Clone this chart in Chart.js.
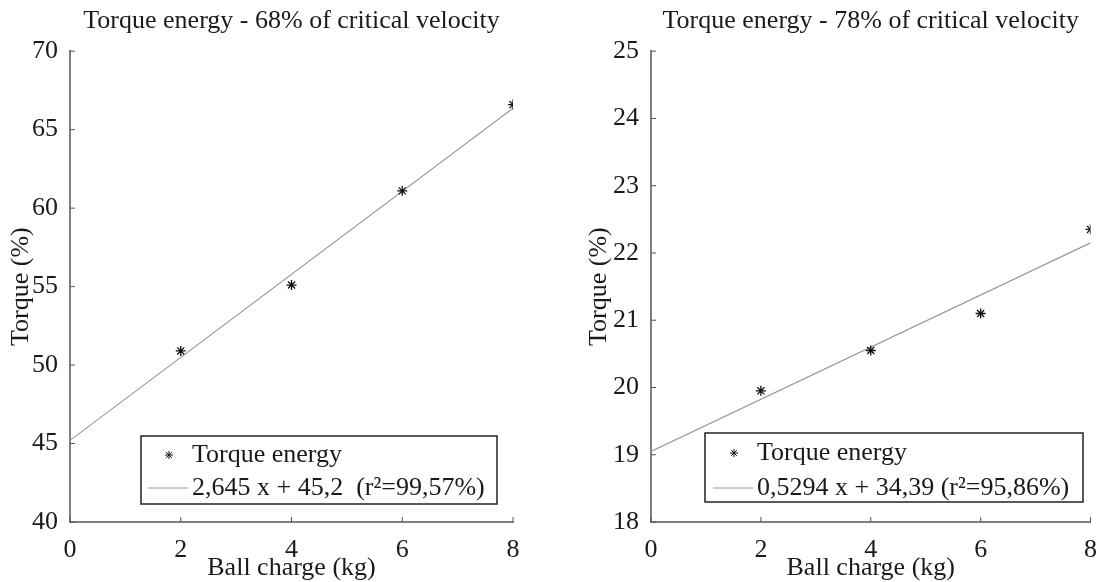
<!DOCTYPE html>
<html>
<head>
<meta charset="utf-8">
<script src="https://cdn.jsdelivr.net/npm/chart.js@4.4.0/dist/chart.umd.min.js"></script>
<style>
  body { margin: 0; background: #fff; }
  .box { position: absolute; top: 0; width: 551px; height: 582px; }
</style>
</head>
<body>
<div class="box" style="left:0"><canvas id="leftChart" width="551" height="582"></canvas></div>
<div class="box" style="left:551px"><canvas id="rightChart" width="551" height="582"></canvas></div>
<script>
// ball charge (kg) of the measured points
const charges = [2, 4, 6, 8];

// torque (%)
const torque68 = [50.9, 55.1, 61.1, 66.6];
const torque78 = [19.95, 20.55, 21.1, 22.35];

// fitted lines, value at 0 kg and at 8 kg
const fitX = [0, 8];
const fit68 = [45.2, 66.36];
const fit78 = [19.05, 22.15];

// tick labels
const xTicks = [0, 2, 4, 6, 8];
const yTicks68 = [40, 45, 50, 55, 60, 65, 70];
const yTicks78 = [18, 19, 20, 21, 22, 23, 24, 25];

// texts
const title68 = 'Torque energy - 68% of critical velocity';
const title78 = 'Torque energy - 78% of critical velocity';
const pointsLabel = 'Torque energy';
const fitLabel68 = '2,645 x + 45,2  (r\u00b2=99,57%)';
const fitLabel78 = '0,5294 x + 34,39 (r\u00b2=95,86%)';

Chart.defaults.font.family = '"Liberation Serif", "Times New Roman", serif';
Chart.defaults.font.size = 26;
Chart.defaults.color = '#1a1a1a';

// small ticks pointing into the plot
const innerTicks = {
  id: 'innerTicks',
  afterDatasetsDraw(chart) {
    const {ctx, chartArea: a, scales: {x, y}} = chart;
    ctx.save();
    ctx.strokeStyle = '#555';
    ctx.lineWidth = 1;
    ctx.beginPath();
    x.ticks.forEach(t => {
      const px = x.getPixelForValue(t.value);
      ctx.moveTo(px, a.bottom);
      ctx.lineTo(px, a.bottom - 5);
    });
    y.ticks.forEach(t => {
      const py = y.getPixelForValue(t.value);
      ctx.moveTo(a.left, py);
      ctx.lineTo(a.left + 5, py);
    });
    ctx.stroke();
    ctx.restore();
  }
};

// boxed legend sitting inside the plot
const boxLegend = {
  id: 'boxLegend',
  afterDraw(chart, args, o) {
    const ctx = chart.ctx;
    const sets = chart.data.datasets;
    ctx.save();
    ctx.fillStyle = '#fff';
    ctx.fillRect(o.box[0], o.box[1], o.box[2] - o.box[0], o.box[3] - o.box[1]);
    ctx.strokeStyle = '#222';
    ctx.lineWidth = 1.5;
    ctx.strokeRect(o.box[0], o.box[1], o.box[2] - o.box[0], o.box[3] - o.box[1]);

    // star marker
    const r = 4, mx = o.markX, my = o.rows[0];
    ctx.strokeStyle = '#111';
    ctx.lineWidth = 1;
    ctx.beginPath();
    ctx.moveTo(mx - r, my); ctx.lineTo(mx + r, my);
    ctx.moveTo(mx, my - r); ctx.lineTo(mx, my + r);
    ctx.moveTo(mx - r * 0.7, my - r * 0.7); ctx.lineTo(mx + r * 0.7, my + r * 0.7);
    ctx.moveTo(mx - r * 0.7, my + r * 0.7); ctx.lineTo(mx + r * 0.7, my - r * 0.7);
    ctx.stroke();

    // line sample
    ctx.strokeStyle = sets[1].borderColor;
    ctx.beginPath();
    ctx.moveTo(o.lineX[0], o.rows[1]);
    ctx.lineTo(o.lineX[1], o.rows[1]);
    ctx.stroke();

    ctx.fillStyle = '#1a1a1a';
    ctx.font = '26px "Liberation Serif", serif';
    ctx.textBaseline = 'middle';
    ctx.textAlign = 'left';
    ctx.fillText(sets[0].label, o.textX, o.rows[0]);
    ctx.fillText(sets[1].label, o.textX, o.rows[1]);
    ctx.restore();
  }
};

function toPoints(xs, ys) {
  return xs.map((v, i) => ({x: v, y: ys[i]}));
}

function makeChart(id, cfg) {
  return new Chart(document.getElementById(id), {
    type: 'scatter',
    data: {
      datasets: [{
        label: pointsLabel,
        data: toPoints(charges, cfg.points),
        pointStyle: 'star',
        pointRadius: 5,
        borderColor: '#111',
        backgroundColor: '#111',
        borderWidth: 1.3,
        order: 0
      }, {
        label: cfg.fitLabel,
        data: toPoints(fitX, cfg.fit),
        showLine: true,
        pointRadius: 0,
        borderColor: '#9a9a9a',
        borderWidth: 1.2,
        order: 1
      }]
    },
    options: {
      responsive: false,
      animation: false,
      layout: { padding: { left: cfg.padLeft, right: cfg.padRight, top: 0, bottom: 0 } },
      plugins: {
        legend: { display: false },
        tooltip: { enabled: false },
        title: {
          display: true,
          text: cfg.title,
          fullSize: false,
          font: { size: 26, weight: 'normal' },
          padding: { top: 6, bottom: 14 }
        },
        boxLegend: cfg.legend
      },
      scales: {
        x: {
          type: 'linear',
          min: 0, max: 8,
          afterBuildTicks: s => { s.ticks = xTicks.map(v => ({value: v})); },
          afterFit: s => { s.height = 60; },
          grid: { display: false },
          border: { display: true, color: '#7f7f7f', width: 2 },
          ticks: { padding: 5 },
          title: { display: true, text: 'Ball charge (kg)', padding: { top: 0, bottom: 1 }, font: { lineHeight: 1 } }
        },
        y: {
          type: 'linear',
          min: cfg.yTicks[0], max: cfg.yTicks[cfg.yTicks.length - 1],
          afterBuildTicks: s => { s.ticks = cfg.yTicks.map(v => ({value: v})); },
          afterFit: s => { s.width = cfg.axisWidth; },
          grid: { display: false },
          border: { display: true, color: '#7f7f7f', width: 2 },
          ticks: { padding: 4 },
          title: { display: true, text: 'Torque (%)', padding: { top: 0, bottom: 0 } }
        }
      }
    },
    plugins: [innerTicks, boxLegend]
  });
}

// left plot: 68% of critical velocity
makeChart('leftChart', {
  title: title68,
  points: torque68,
  fit: fit68,
  fitLabel: fitLabel68,
  yTicks: yTicks68,
  padLeft: 6,
  padRight: 38,
  axisWidth: 64,
  legend: { box: [141, 436, 497, 504], rows: [455, 488], markX: 169, lineX: [148, 188], textX: 192 }
});

// right plot: 78% of critical velocity
makeChart('rightChart', {
  title: title78,
  points: torque78,
  fit: fit78,
  fitLabel: fitLabel78,
  yTicks: yTicks78,
  padLeft: 33,
  padRight: 10,
  axisWidth: 67,
  legend: { box: [154, 433, 532, 502], rows: [453, 488], markX: 183, lineX: [162, 202], textX: 206 }
});
</script>
</body>
</html>
